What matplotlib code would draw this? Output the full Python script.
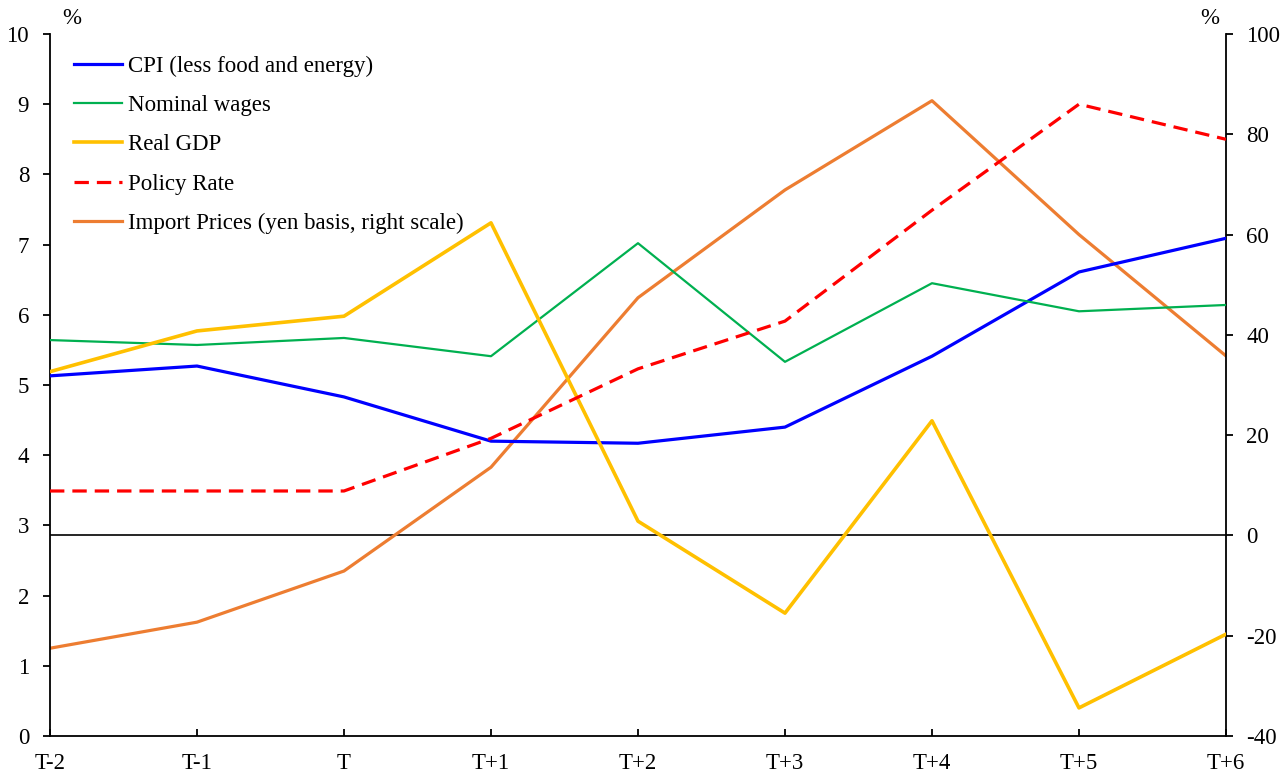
import numpy as np
import matplotlib.pyplot as plt

plt.rcParams['font.family'] = ['Liberation Serif', 'DejaVu Serif']
plt.rcParams['axes.unicode_minus'] = False

periods = ["T-2", "T-1", "T", "T+1", "T+2", "T+3", "T+4", "T+5", "T+6"]
cpi = [5.13, 5.27, 4.83, 4.20, 4.17, 4.40, 5.41, 6.61, 7.09]
wages = [5.64, 5.57, 5.67, 5.41, 7.02, 5.33, 6.45, 6.05, 6.14]
gdp = [5.19, 5.77, 5.98, 7.31, 3.06, 1.75, 4.49, 0.40, 1.45]
policy = [3.49, 3.49, 3.49, 4.24, 5.23, 5.91, 7.49, 9.00, 8.50]
imports = [-22.5, -17.3, -7.1, 13.6, 47.4, 68.9, 86.7, 60.0, 35.8]

x = np.arange(len(periods))
FS = 16.5

fig = plt.figure(figsize=(12.82, 7.73), dpi=100)
ax = fig.add_axes([0.039, 0.0479, 0.9173, 0.9081])
ax2 = ax.twinx()

ax2.axhline(0, color="black", lw=1.2, zorder=1)
l5, = ax2.plot(x, imports, color="#ED7D31", lw=2.3, zorder=2)
l1, = ax.plot(x, cpi, color="#0000FF", lw=2.3, zorder=3)
l2, = ax.plot(x, wages, color="#00B050", lw=1.6, zorder=3)
l3, = ax.plot(x, gdp, color="#FFC000", lw=2.6, zorder=3)
l4, = ax.plot(x, policy, color="#FF0000", lw=2.3, dashes=(4.5, 2.5), zorder=3)

ax.set_zorder(ax2.get_zorder() + 1)
ax.patch.set_visible(False)

ax.set_xlim(0, len(periods) - 1)
ax.set_ylim(0, 10)
ax2.set_ylim(-40, 100)
ax.set_yticks(range(0, 11))
ax2.set_yticks(range(-40, 101, 20))
ax.set_xticks(x)
ax.set_xticklabels(periods)

for a in (ax, ax2):
    a.spines['top'].set_visible(False)
    for s in a.spines.values():
        s.set_linewidth(1.3)
ax.spines['right'].set_visible(False)
ax2.spines['left'].set_visible(False)
ax2.spines['bottom'].set_visible(False)

ax.tick_params(axis='y', direction='out', length=5, width=1.3, labelsize=FS, pad=10)
ax.tick_params(axis='x', direction='in', length=5, width=1.3, labelsize=FS, pad=12.5)
ax2.tick_params(axis='y', direction='out', length=5, width=1.3, labelsize=FS, pad=9.5)

fig.text(72 / 1282, 1 - 18 / 773, "%", fontsize=FS, ha='center', va='center')
fig.text(1210 / 1282, 1 - 18 / 773, "%", fontsize=FS, ha='center', va='center')

ax.legend([l1, l2, l3, l4, l5],
          ["CPI (less food and energy)", "Nominal wages", "Real GDP",
           "Policy Rate", "Import Prices (yen basis, right scale)"],
          loc='upper left', bbox_to_anchor=(0.0086, 0.989), frameon=False,
          fontsize=FS, handlelength=2.1, handletextpad=0.28, labelspacing=0.8,
          borderaxespad=0.2)

fig.savefig("out.png", dpi=100)
